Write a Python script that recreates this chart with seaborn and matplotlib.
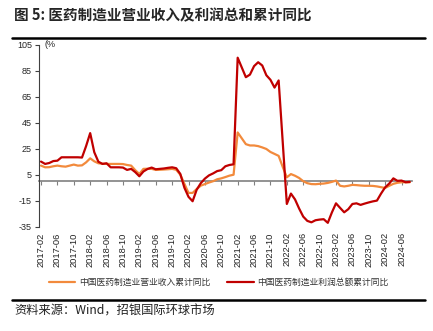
import numpy as np
import pandas as pd
import matplotlib
matplotlib.use("Agg")
import matplotlib.pyplot as plt
from matplotlib.lines import Line2D
import seaborn as sns

# ---------------- data ----------------
start_month = "2017-02"
n_months = 91
months = pd.period_range(start_month, periods=n_months, freq="M").strftime("%Y-%m").tolist()

revenue = [12.0, 10.7, 10.8, 11.5, 12.0, 11.5, 11.2, 12.0, 12.8, 12.0,
           12.2, 14.5, 17.6, 15.3, 13.8, 13.5, 13.3, 13.3, 13.3, 13.3,
           13.2, 12.5, 12.0, 8.5, 5.6, 9.5, 9.6, 9.5, 8.7, 8.8,
           9.0, 9.2, 9.5, 8.8, 5.0, -2.0, -9.0, -9.0, -6.0, -3.4,
           -2.2, -1.0, 0.0, 1.5, 2.2, 3.2, 4.3, 5.0, 37.5, 33.0,
           28.5, 27.5, 27.5, 27.0, 26.0, 24.8, 22.5, 21.0, 19.5, 11.0,
           3.0, 5.5, 4.2, 2.5, 0.0, -1.5, -2.2, -2.3, -2.0, -1.8,
           -1.3, -0.5, 0.5, -3.5, -4.0, -3.5, -2.8, -3.0, -3.3, -3.5,
           -3.5, -3.6, -4.0, -4.6, -5.2, -3.5, -2.0, -1.2, -0.8, -0.8,
           -0.8]

profit = [15.1, 13.3, 14.0, 15.5, 15.8, 18.4, 18.4, 18.4, 18.4, 18.4,
          18.2, 27.0, 37.0, 22.3, 15.0, 13.3, 13.8, 10.7, 10.7, 10.7,
          10.5, 8.7, 9.5, 7.0, 3.8, 7.5, 9.4, 10.5, 9.2, 9.5,
          9.8, 10.3, 10.7, 10.0, 5.6, -5.0, -12.0, -15.4, -6.5, -1.5,
          2.0, 4.5, 6.0, 7.8, 8.5, 11.5, 12.5, 13.0, 95.0, 87.5,
          80.0, 82.0, 88.5, 91.5, 89.0, 81.5, 78.0, 72.0, 77.5, 30.0,
          -17.5, -9.5, -14.0, -21.0, -27.2, -30.5, -31.6, -30.0, -29.5, -29.2,
          -32.0, -24.0, -17.0, -20.5, -23.9, -21.5, -17.5, -17.0, -18.2, -17.2,
          -16.3, -15.5, -14.9, -9.5, -4.7, -1.8, 2.2, 0.3, 0.5, -0.8,
          -0.5]

series_names = ["中国医药制造业营业收入累计同比", "中国医药制造业利润总额累计同比"]
series_colors = ["#F28A3C", "#C00000"]
y_ticks = [105, 85, 65, 45, 25, 5, -15, -35]
title = "图 5: 医药制造业营业收入及利润总和累计同比"
source = "资料来源：Wind，招银国际环球市场"

# ---------------- table ----------------
df = pd.concat([
    pd.DataFrame({"idx": np.arange(n_months), "month": months, "value": revenue, "series": series_names[0]}),
    pd.DataFrame({"idx": np.arange(n_months), "month": months, "value": profit, "series": series_names[1]}),
])

# ---------------- plot ----------------
sns.set_theme(style="white")
plt.rcParams["font.family"] = ["Noto Sans CJK SC", "DejaVu Sans"]

fig = plt.figure(figsize=(4.33, 3.31), dpi=100)
ax = fig.add_axes([0.090, 0.315, 0.861, 0.550])

sns.lineplot(data=df, x="idx", y="value", hue="series", hue_order=series_names,
             palette=series_colors, linewidth=1.6, ax=ax, legend=True)

ax.set_xlim(-0.5, n_months - 0.5)
ax.set_ylim(-35, 105)
ax.set_yticks(y_ticks)
ax.set_yticklabels([str(v) for v in y_ticks], fontsize=6.5, family=["Liberation Sans", "DejaVu Sans"])
ax.tick_params(axis="y", direction="out", length=3, width=0.8, color="#404040", pad=2, left=True)

tick_idx = list(range(0, n_months, 4))
ax.set_xticks(tick_idx)
ax.set_xticklabels([months[i] for i in tick_idx], rotation=90, fontsize=6.7,
                   family=["Liberation Sans", "DejaVu Sans"], color="#222222")
ax.tick_params(axis="x", length=0, pad=4, bottom=True)
ax.set_xlabel("")
ax.set_ylabel("")

for s in ["top", "right", "bottom"]:
    ax.spines[s].set_visible(False)
ax.spines["left"].set_color("#404040")
ax.spines["left"].set_linewidth(0.8)

# zero line axis with ticks
sec = ax.secondary_xaxis((0 - (-35)) / 140.0)
sec.set_xticks(tick_idx)
sec.set_xticklabels([])
sec.tick_params(axis="x", direction="out", length=3, width=0.8, color="#808080")
sec.spines["bottom"].set_color("#808080")
sec.spines["bottom"].set_linewidth(1.2)
for s in ["top", "left", "right"]:
    sec.spines[s].set_visible(False)

ax.text(0.016, 1.0, "(%", transform=ax.transAxes, fontsize=6.5, va="center", ha="left",
        family=["Liberation Sans", "DejaVu Sans"])

# legend
handles, labels = ax.get_legend_handles_labels()
ax.legend_.remove()
fig.legend(handles, labels, loc="center", bbox_to_anchor=(0.505, 0.147), ncol=2,
           frameon=False, fontsize=6.3, handlelength=3.0, columnspacing=2.0,
           handletextpad=0.4, labelcolor="#333333")

# title and rules
fig.text(0.033, 0.953, title, fontsize=10.5, fontweight="bold", ha="left", va="center")
fig.add_artist(Line2D([0.028, 0.982], [1 - 37.7 / 331, 1 - 37.7 / 331], transform=fig.transFigure,
                      color="black", linewidth=1.8))
fig.add_artist(Line2D([0.028, 0.982], [1 - 299.5 / 331, 1 - 299.5 / 331], transform=fig.transFigure,
                      color="black", linewidth=1.8))
fig.text(0.033, 1 - 311.5 / 331, source, fontsize=8.8, ha="left", va="center", color="#222222")

fig.savefig("out.png", dpi=100)
